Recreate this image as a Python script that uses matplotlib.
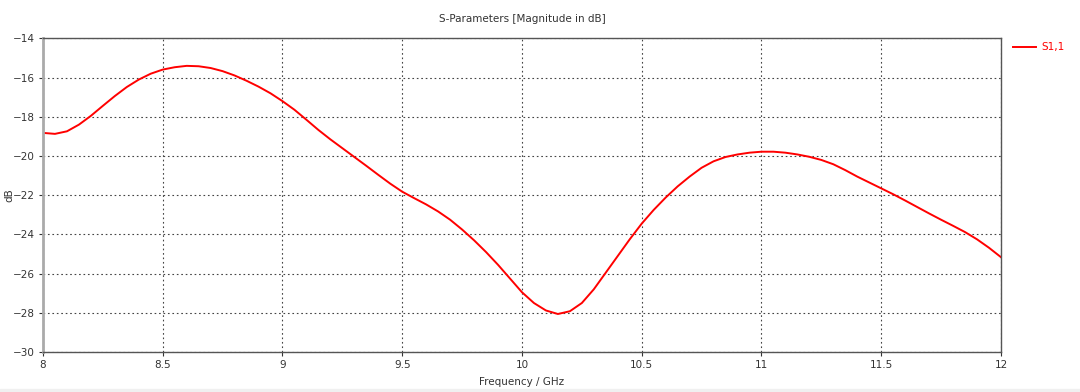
import matplotlib.pyplot as plt
from matplotlib.patches import Rectangle

# S11 magnitude (GHz, dB)
freq = [8.00, 8.05, 8.10, 8.15, 8.20, 8.25, 8.30, 8.35, 8.40, 8.45,
        8.50, 8.55, 8.60, 8.65, 8.70, 8.75, 8.80, 8.85, 8.90, 8.95,
        9.00, 9.05, 9.10, 9.15, 9.20, 9.25, 9.30, 9.35, 9.40, 9.45,
        9.50, 9.55, 9.60, 9.65, 9.70, 9.75, 9.80, 9.85, 9.90, 9.95,
        10.00, 10.05, 10.10, 10.15, 10.20, 10.25, 10.30, 10.35, 10.40, 10.45,
        10.50, 10.55, 10.60, 10.65, 10.70, 10.75, 10.80, 10.85, 10.90, 10.95,
        11.00, 11.05, 11.10, 11.15, 11.20, 11.25, 11.30, 11.35, 11.40, 11.45,
        11.50, 11.55, 11.60, 11.65, 11.70, 11.75, 11.80, 11.85, 11.90, 11.95,
        12.00]
s11 = [-18.82, -18.87, -18.74, -18.40, -17.95, -17.44, -16.94, -16.48, -16.10, -15.80,
       -15.59, -15.47, -15.40, -15.42, -15.51, -15.67, -15.89, -16.16, -16.46, -16.80,
       -17.20, -17.64, -18.15, -18.67, -19.15, -19.60, -20.05, -20.50, -20.96, -21.41,
       -21.82, -22.15, -22.47, -22.83, -23.25, -23.75, -24.30, -24.90, -25.55, -26.25,
       -26.95, -27.50, -27.88, -28.06, -27.92, -27.50, -26.80, -25.95, -25.10, -24.25,
       -23.45, -22.75, -22.12, -21.55, -21.05, -20.60, -20.27, -20.05, -19.92, -19.83,
       -19.78, -19.78, -19.83, -19.92, -20.04, -20.20, -20.42, -20.72, -21.05, -21.35,
       -21.65, -21.95, -22.27, -22.60, -22.93, -23.25, -23.56, -23.88, -24.25, -24.68,
       -25.16]

xticks = [8, 8.5, 9, 9.5, 10, 10.5, 11, 11.5, 12]
xticklabels = ['8', '8.5', '9', '9.5', '10', '10.5', '11', '11.5', '12']
yticks = [-30, -28, -26, -24, -22, -20, -18, -16, -14]

plt.rcParams['font.family'] = ['DejaVu Sans']
fig = plt.figure(figsize=(10.8, 3.92), dpi=100)
ax = fig.add_axes([0.0398, 0.102, 0.8870, 0.800])

ax.plot(freq, s11, color='#ff0000', lw=1.4, label='S1,1')

ax.set_xlim(8, 12)
ax.set_ylim(-30, -14)
ax.set_xticks(xticks)
ax.set_xticklabels(xticklabels)
ax.set_yticks(yticks)
ax.tick_params(labelsize=7.5, colors='#333333', length=3, width=0.8, pad=3)
ax.grid(True, color='#444444', linestyle=(0, (1.5, 2.5)), linewidth=0.8)

for s in ax.spines.values():
    s.set_color('#555555')
    s.set_linewidth(1.0)
ax.spines['left'].set_color('#aaaaaa')
ax.spines['left'].set_linewidth(2.0)

ax.set_title('S-Parameters [Magnitude in dB]', fontsize=7.5, color='#333333', pad=12)
ax.set_xlabel('Frequency / GHz', fontsize=7.5, color='#333333', labelpad=5)
ax.set_ylabel('dB', fontsize=7.5, color='#333333')
ax.yaxis.set_label_coords(-0.030, 0.5)

ax.legend(loc='upper left', bbox_to_anchor=(1.003, 1.018), frameon=False,
          fontsize=7.5, labelcolor='#ff0000', handlelength=2.2, handletextpad=0.5)

# light gray band at the bottom of the window
fig.patches.append(Rectangle((0, 0), 1, 0.008, transform=fig.transFigure,
                             color='#f0f0f0', zorder=-1))

plt.savefig('out.png', dpi=100)
plt.close()
